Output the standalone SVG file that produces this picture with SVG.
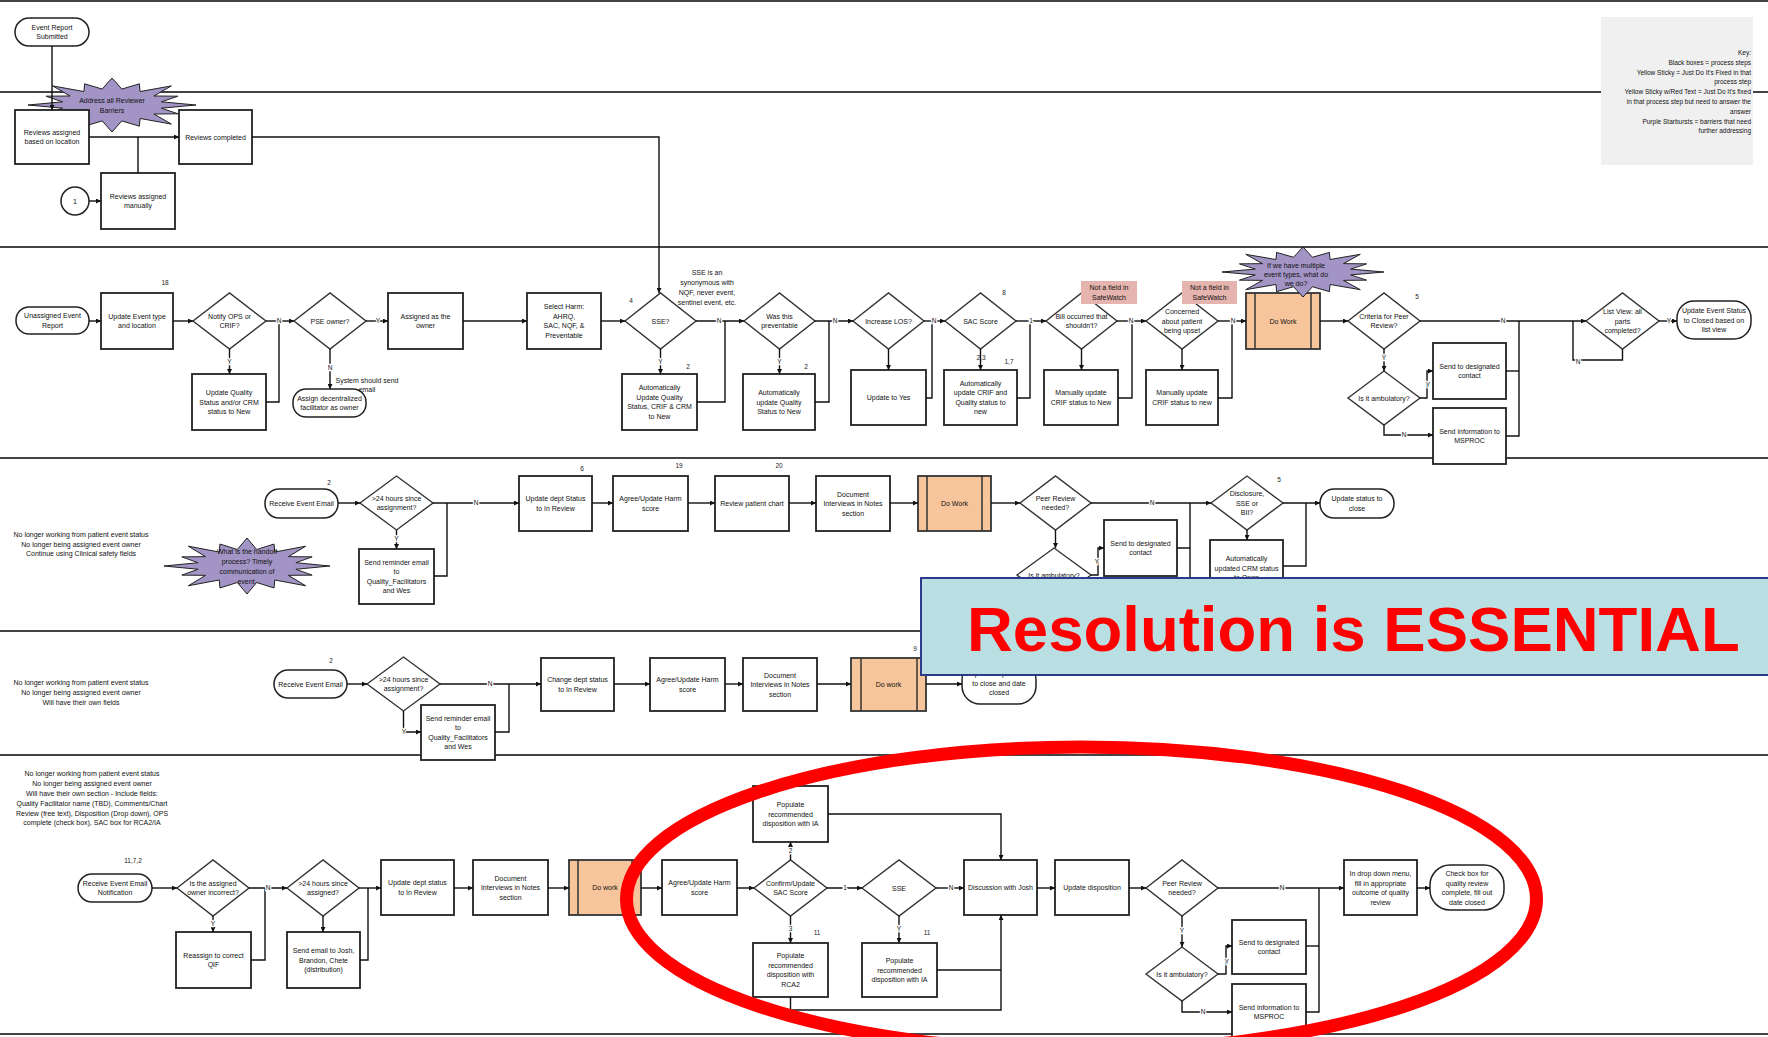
<svg xmlns="http://www.w3.org/2000/svg" xmlns:xlink="http://www.w3.org/1999/xlink" width="1768" height="1037" viewBox="0 0 1768 1037">
<style>
.lane{stroke:#444;stroke-width:2}
.bx{fill:#fff;stroke:#222;stroke-width:1.8}
.rd{fill:#fff;stroke:#222;stroke-width:1.5}
.dm{fill:#fff;stroke:#333;stroke-width:1.4}
.or{fill:#f7c59b;stroke:#333;stroke-width:1.8}
.orl{stroke:#333;stroke-width:1.5}
.pk{fill:#e6b4ae}
.bu{fill:#a294c4;stroke:#222}
.t{font-family:"Liberation Sans",Arial,sans-serif;font-size:7px;text-anchor:middle;fill:#111}
.k{font-family:"Liberation Sans",Arial,sans-serif;font-size:6.5px;text-anchor:end;fill:#111}
.num{font-family:"Liberation Sans",Arial,sans-serif;font-size:6.5px;text-anchor:middle;fill:#222}
.yn{font-family:"Liberation Sans",Arial,sans-serif;font-size:6.5px;text-anchor:middle;fill:#111;paint-order:stroke;stroke:#fff;stroke-width:2.5}
.c{fill:none;stroke:#111;stroke-width:1.4}
.a{marker-end:url(#ah)}
</style>
<defs>
<marker id="ah" viewBox="0 0 10 10" refX="10" refY="5" markerWidth="6" markerHeight="5" markerUnits="userSpaceOnUse" orient="auto"><path d="M0,0 L10,5 L0,10 z" fill="#111"/></marker>
<path id="burst" vector-effect="non-scaling-stroke" stroke-width="1" d="M1,0 L0.589,0.117 L0.785,0.326 L0.499,0.334 L0.707,0.707 L0.334,0.499 L0.326,0.785 L0.117,0.589 L0,1 L-0.117,0.589 L-0.326,0.785 L-0.334,0.499 L-0.707,0.707 L-0.499,0.334 L-0.785,0.326 L-0.589,0.117 L-1,0 L-0.589,-0.117 L-0.785,-0.326 L-0.499,-0.334 L-0.707,-0.707 L-0.334,-0.499 L-0.326,-0.785 L-0.117,-0.589 L0,-1 L0.117,-0.589 L0.326,-0.785 L0.334,-0.499 L0.707,-0.707 L0.499,-0.334 L0.785,-0.326 L0.589,-0.117 Z"/>
</defs>
<rect width="1768" height="1037" fill="#fff"/>
<g id="lanes">
<line class="lane" x1="0" y1="1" x2="1768" y2="1"/>
<line class="lane" x1="0" y1="92" x2="1768" y2="92"/>
<line class="lane" x1="0" y1="247" x2="1768" y2="247"/>
<line class="lane" x1="0" y1="458" x2="1768" y2="458"/>
<line class="lane" x1="0" y1="631" x2="1768" y2="631"/>
<line class="lane" x1="0" y1="755" x2="1768" y2="755"/>
<line class="lane" x1="0" y1="1034" x2="1768" y2="1034"/>
</g>
<g id="nodes">
<g id="key"><rect x="1601" y="17" width="152" height="148" fill="#f0f0f0"/>
<text class="k" x="1751"><tspan x="1751" y="55">Key:</tspan><tspan x="1751" y="65">Black boxes = process steps</tspan><tspan x="1751" y="75">Yellow Sticky = Just Do It's Fixed in that</tspan><tspan x="1751" y="84">process step</tspan><tspan x="1751" y="94">Yellow Sticky w/Red Text = Just Do It's fixed</tspan><tspan x="1751" y="104">in that process step but need to answer the</tspan><tspan x="1751" y="114">answer</tspan><tspan x="1751" y="124">Purple Starbursts = barriers that need</tspan><tspan x="1751" y="133">further addressing</tspan></text></g>

<g id="n-submitted"><rect class="rd" x="15" y="18" width="74" height="28" rx="14"/><text class="t" x="52"><tspan x="52" y="29.8">Event Report</tspan><tspan x="52" y="39.3">Submitted</tspan></text></g>
<g id="n-burst1"><use href="#burst" class="bu" transform="translate(112,105) scale(84,27)"/><text class="t" x="112"><tspan x="112" y="103">Address all Reviewer</tspan><tspan x="112" y="112.5">Barriers</tspan></text></g>
<g id="n-assigned-loc"><rect class="bx" x="15" y="110" width="74" height="54"/><text class="t" x="52"><tspan x="52" y="134.8">Reviews assigned</tspan><tspan x="52" y="144.3">based on location</tspan></text></g>
<g id="n-completed"><rect class="bx" x="179" y="110" width="73" height="54"/><text class="t" x="215.5" y="139.5">Reviews completed</text></g>
<g id="n-manual"><rect class="bx" x="101" y="173" width="74" height="56"/><text class="t" x="138"><tspan x="138" y="198.8">Reviews assigned</tspan><tspan x="138" y="208.3">manually</tspan></text></g>
<g id="n-c1"><circle class="rd" cx="75" cy="201" r="14"/><text class="t" x="75" y="203.5">1</text></g>

<g id="n-unassigned"><rect class="rd" x="16" y="307" width="73" height="27" rx="13"/><text class="t" x="52.5"><tspan x="52.5" y="318.3">Unassigned Event</tspan><tspan x="52.5" y="327.8">Report</tspan></text></g>
<text class="num" x="165" y="285">18</text>
<g id="n-update-type"><rect class="bx" x="101" y="293" width="72" height="56"/><text class="t" x="137"><tspan x="137" y="318.8">Update Event type</tspan><tspan x="137" y="328.3">and location</tspan></text></g>
<g id="n-notify"><polygon class="dm" points="193,321 229.5,293 266,321 229.5,349"/><text class="t" x="229.5"><tspan x="229.5" y="318.8">Notify OPS or</tspan><tspan x="229.5" y="328.3">CRIF?</tspan></text></g>
<g id="n-pse"><polygon class="dm" points="294,321 330,293 366,321 330,349"/><text class="t" x="330" y="323.5">PSE owner?</text></g>
<g id="n-assigned-owner"><rect class="bx" x="388" y="293" width="75" height="56"/><text class="t" x="425.5"><tspan x="425.5" y="318.8">Assigned as the</tspan><tspan x="425.5" y="328.3">owner</tspan></text></g>
<g id="n-select-harm"><rect class="bx" x="527" y="293" width="74" height="56"/><text class="t" x="564"><tspan x="564" y="309.3">Select Harm:</tspan><tspan x="564" y="318.8">AHRQ,</tspan><tspan x="564" y="328.3">SAC, NQF, &amp;</tspan><tspan x="564" y="337.8">Preventable</tspan></text></g>
<text class="num" x="631" y="303">4</text>
<g id="n-sse"><polygon class="dm" points="625,321 660.5,293 696,321 660.5,349"/><text class="t" x="660.5" y="323.5">SSE?</text></g>
<text class="t" x="707"><tspan x="707" y="275">SSE is an</tspan><tspan x="707" y="285">synonymous with</tspan><tspan x="707" y="295">NQF, never event,</tspan><tspan x="707" y="305">sentinel event, etc.</tspan></text>
<g id="n-preventable"><polygon class="dm" points="744,321 779.5,293 815,321 779.5,349"/><text class="t" x="779.5"><tspan x="779.5" y="318.8">Was this</tspan><tspan x="779.5" y="328.3">preventable</tspan></text></g>
<g id="n-los"><polygon class="dm" points="853,321 888.5,293 924,321 888.5,349"/><text class="t" x="888.5" y="323.5">Increase LOS?</text></g>
<g id="n-sac"><polygon class="dm" points="945,321 980.5,293 1016,321 980.5,349"/><text class="t" x="980.5" y="323.5">SAC Score</text></g>
<text class="num" x="1004" y="295">8</text>
<g id="n-bill"><polygon class="dm" points="1046,321 1081.5,293 1117,321 1081.5,349"/><text class="t" x="1081.5"><tspan x="1081.5" y="318.8">Bill occurred that</tspan><tspan x="1081.5" y="328.3">shouldn't?</tspan></text></g>
<g id="n-note1"><rect class="pk" x="1081" y="281" width="56" height="23"/><text class="t" x="1109"><tspan x="1109" y="290.3">Not a field in</tspan><tspan x="1109" y="299.8">SafeWatch</tspan></text></g>
<g id="n-concerned"><polygon class="dm" points="1146,321 1182,293 1218,321 1182,349"/><text class="t" x="1182"><tspan x="1182" y="314">Concerned</tspan><tspan x="1182" y="323.5">about patient</tspan><tspan x="1182" y="333">being upset</tspan></text></g>
<g id="n-note2"><rect class="pk" x="1182" y="281" width="55" height="23"/><text class="t" x="1209.5"><tspan x="1209.5" y="290.3">Not a field in</tspan><tspan x="1209.5" y="299.8">SafeWatch</tspan></text></g>
<g id="n-dowork1"><rect class="or" x="1246" y="293" width="74" height="56"/><line class="orl" x1="1255" y1="293" x2="1255" y2="349"/><line class="orl" x1="1311" y1="293" x2="1311" y2="349"/><text class="t" x="1283" y="323.5">Do Work</text></g>
<g id="n-burst3"><use href="#burst" class="bu" transform="translate(1303,272) scale(81,25)"/><text class="t" x="1296"><tspan x="1296" y="267.5">If we have multiple</tspan><tspan x="1296" y="276.5">event types, what do</tspan><tspan x="1296" y="285.5">we do?</tspan></text></g>
<g id="n-criteria"><polygon class="dm" points="1348,321 1384,293 1420,321 1384,349"/><text class="t" x="1384"><tspan x="1384" y="318.8">Criteria for Peer</tspan><tspan x="1384" y="328.3">Review?</tspan></text></g>
<text class="num" x="1417" y="299">5</text>
<g id="n-listview"><polygon class="dm" points="1586,321 1622.5,293 1659,321 1622.5,349"/><text class="t" x="1622.5"><tspan x="1622.5" y="314">List View: all</tspan><tspan x="1622.5" y="323.5">parts</tspan><tspan x="1622.5" y="333">completed?</tspan></text></g>
<g id="n-closed-list"><rect class="rd" x="1677" y="301" width="74" height="38" rx="17"/><text class="t" x="1714"><tspan x="1714" y="313">Update Event Status</tspan><tspan x="1714" y="322.5">to Closed based on</tspan><tspan x="1714" y="332">list view</tspan></text></g>
<g id="n-upd-quality"><rect class="bx" x="192" y="374" width="74" height="56"/><text class="t" x="229"><tspan x="229" y="395">Update Quality</tspan><tspan x="229" y="404.5">Status and/or CRM</tspan><tspan x="229" y="414">status to New</tspan></text></g>
<g id="n-assign-dec"><rect class="rd" x="293" y="389" width="73" height="28" rx="13"/><text class="t" x="329.5"><tspan x="329.5" y="400.8">Assign decentralized</tspan><tspan x="329.5" y="410.3">facilitator as owner</tspan></text></g>
<text class="t" x="367"><tspan x="367" y="383">System should send</tspan><tspan x="367" y="392">email</tspan></text>
<g id="n-auto-crif-crm"><rect class="bx" x="622" y="374" width="75" height="56"/><text class="t" x="659.5"><tspan x="659.5" y="390.3">Automatically</tspan><tspan x="659.5" y="399.8">Update Quality</tspan><tspan x="659.5" y="409.3">Status, CRIF &amp; CRM</tspan><tspan x="659.5" y="418.8">to New</tspan></text></g>
<text class="num" x="688" y="369">2</text>
<g id="n-auto-quality"><rect class="bx" x="743" y="374" width="72" height="56"/><text class="t" x="779"><tspan x="779" y="395">Automatically</tspan><tspan x="779" y="404.5">update Quality</tspan><tspan x="779" y="414">Status to New</tspan></text></g>
<text class="num" x="806" y="369">2</text>
<g id="n-upd-yes"><rect class="bx" x="851" y="370" width="75" height="55"/><text class="t" x="888.5" y="400">Update to Yes</text></g>
<g id="n-auto-crif"><rect class="bx" x="944" y="370" width="73" height="55"/><text class="t" x="980.5"><tspan x="980.5" y="385.8">Automatically</tspan><tspan x="980.5" y="395.3">update CRIF and</tspan><tspan x="980.5" y="404.8">Quality status to</tspan><tspan x="980.5" y="414.3">new</tspan></text></g>
<text class="num" x="981" y="360">2,3</text>
<text class="num" x="1009" y="364">1,7</text>
<g id="n-man-crif1"><rect class="bx" x="1044" y="370" width="74" height="55"/><text class="t" x="1081"><tspan x="1081" y="395.3">Manually update</tspan><tspan x="1081" y="404.8">CRIF status to New</tspan></text></g>
<g id="n-man-crif2"><rect class="bx" x="1146" y="370" width="72" height="55"/><text class="t" x="1182"><tspan x="1182" y="395.3">Manually update</tspan><tspan x="1182" y="404.8">CRIF status to new</tspan></text></g>
<g id="n-amb1"><polygon class="dm" points="1348,398 1384,371 1420,398 1384,425"/><text class="t" x="1384" y="400.5">Is it ambulatory?</text></g>
<g id="n-contact1"><rect class="bx" x="1433" y="343" width="73" height="56"/><text class="t" x="1469.5"><tspan x="1469.5" y="368.8">Send to designated</tspan><tspan x="1469.5" y="378.3">contact</tspan></text></g>
<g id="n-msproc1"><rect class="bx" x="1433" y="408" width="73" height="56"/><text class="t" x="1469.5"><tspan x="1469.5" y="433.8">Send information to</tspan><tspan x="1469.5" y="443.3">MSPROC</tspan></text></g>

<text class="t" x="81"><tspan x="81" y="537">No longer working from patient event status</tspan><tspan x="81" y="547">No longer being assigned event owner</tspan><tspan x="81" y="556">Continue using Clinical safety fields</tspan></text>
<g id="n-burst2"><use href="#burst" class="bu" transform="translate(247,566) scale(83,28)"/><text class="t" x="247"><tspan x="247" y="554">What is the handoff</tspan><tspan x="247" y="564">process? Timely</tspan><tspan x="247" y="574">communication of</tspan><tspan x="247" y="584">event.</tspan></text></g>
<text class="num" x="329" y="485">2</text>
<g id="n-recv4"><rect class="rd" x="265" y="489" width="73" height="29" rx="14"/><text class="t" x="301.5" y="505.5">Receive Event Email</text></g>
<g id="n-24h4"><polygon class="dm" points="360,503 396.5,476 433,503 396.5,530"/><text class="t" x="396.5"><tspan x="396.5" y="500.8">&gt;24 hours since</tspan><tspan x="396.5" y="510.3">assignment?</tspan></text></g>
<g id="n-remind4"><rect class="bx" x="359" y="549" width="75" height="55"/><text class="t" x="396.5"><tspan x="396.5" y="564.8">Send reminder email</tspan><tspan x="396.5" y="574.3">to</tspan><tspan x="396.5" y="583.8">Quality_Facilitators</tspan><tspan x="396.5" y="593.3">and Wes</tspan></text></g>
<g id="n-dept4"><rect class="bx" x="519" y="476" width="73" height="55"/><text class="t" x="555.5"><tspan x="555.5" y="501.3">Update dept Status</tspan><tspan x="555.5" y="510.8">to In Review</tspan></text></g>
<text class="num" x="582" y="471">6</text>
<g id="n-harm4"><rect class="bx" x="613" y="476" width="75" height="55"/><text class="t" x="650.5"><tspan x="650.5" y="501.3">Agree/Update Harm</tspan><tspan x="650.5" y="510.8">score</tspan></text></g>
<text class="num" x="679" y="468">19</text>
<g id="n-chart4"><rect class="bx" x="715" y="476" width="74" height="55"/><text class="t" x="752" y="506">Review patient chart</text></g>
<text class="num" x="779" y="468">20</text>
<g id="n-doc4"><rect class="bx" x="816" y="476" width="74" height="55"/><text class="t" x="853"><tspan x="853" y="496.5">Document</tspan><tspan x="853" y="506">Interviews in Notes</tspan><tspan x="853" y="515.5">section</tspan></text></g>
<g id="n-dowork4"><rect class="or" x="918" y="476" width="73" height="55"/><line class="orl" x1="927" y1="476" x2="927" y2="531"/><line class="orl" x1="982" y1="476" x2="982" y2="531"/><text class="t" x="954.5" y="506">Do Work</text></g>
<g id="n-peer4"><polygon class="dm" points="1020,503 1055.5,476 1091,503 1055.5,530"/><text class="t" x="1055.5"><tspan x="1055.5" y="500.8">Peer Review</tspan><tspan x="1055.5" y="510.3">needed?</tspan></text></g>
<g id="n-disclosure"><polygon class="dm" points="1211,503 1247,476 1283,503 1247,530"/><text class="t" x="1247"><tspan x="1247" y="496">Disclosure,</tspan><tspan x="1247" y="505.5">SSE or</tspan><tspan x="1247" y="515">BII?</tspan></text></g>
<text class="num" x="1279" y="482">5</text>
<g id="n-close4"><rect class="rd" x="1320" y="489" width="74" height="29" rx="14"/><text class="t" x="1357"><tspan x="1357" y="501">Update status to</tspan><tspan x="1357" y="510.5">close</tspan></text></g>
<g id="n-amb4"><polygon class="dm" points="1017,575 1054,548 1091,575 1054,602"/><text class="t" x="1054" y="577.5">Is it ambulatory?</text></g>
<g id="n-contact4"><rect class="bx" x="1104" y="520" width="73" height="56"/><text class="t" x="1140.5"><tspan x="1140.5" y="545.8">Send to designated</tspan><tspan x="1140.5" y="555.3">contact</tspan></text></g>
<g id="n-crm-open"><rect class="bx" x="1210" y="540" width="73" height="56"/><text class="t" x="1246.5"><tspan x="1246.5" y="561">Automatically</tspan><tspan x="1246.5" y="570.5">updated CRM status</tspan><tspan x="1246.5" y="580">to Open</tspan></text></g>

<text class="t" x="81"><tspan x="81" y="685">No longer working from patient event status</tspan><tspan x="81" y="695">No longer being assigned event owner</tspan><tspan x="81" y="705">Will have their own fields</tspan></text>
<text class="num" x="331" y="663">2</text>
<g id="n-recv5"><rect class="rd" x="274" y="670" width="73" height="28" rx="14"/><text class="t" x="310.5" y="686.5">Receive Event Email</text></g>
<g id="n-24h5"><polygon class="dm" points="367,684 403.5,657 440,684 403.5,711"/><text class="t" x="403.5"><tspan x="403.5" y="681.8">&gt;24 hours since</tspan><tspan x="403.5" y="691.3">assignment?</tspan></text></g>
<g id="n-remind5"><rect class="bx" x="421" y="705" width="74" height="55"/><text class="t" x="458"><tspan x="458" y="720.8">Send reminder email</tspan><tspan x="458" y="730.3">to</tspan><tspan x="458" y="739.8">Quality_Facilitators</tspan><tspan x="458" y="749.3">and Wes</tspan></text></g>
<g id="n-dept5"><rect class="bx" x="541" y="658" width="73" height="53"/><text class="t" x="577.5"><tspan x="577.5" y="682.3">Change dept status</tspan><tspan x="577.5" y="691.8">to In Review</tspan></text></g>
<g id="n-harm5"><rect class="bx" x="650" y="658" width="75" height="53"/><text class="t" x="687.5"><tspan x="687.5" y="682.3">Agree/Update Harm</tspan><tspan x="687.5" y="691.8">score</tspan></text></g>
<g id="n-doc5"><rect class="bx" x="743" y="658" width="74" height="53"/><text class="t" x="780"><tspan x="780" y="677.5">Document</tspan><tspan x="780" y="687">Interviews in Notes</tspan><tspan x="780" y="696.5">section</tspan></text></g>
<g id="n-dowork5"><rect class="or" x="851" y="658" width="75" height="53"/><line class="orl" x1="861" y1="658" x2="861" y2="711"/><line class="orl" x1="917" y1="658" x2="917" y2="711"/><text class="t" x="888.5" y="687">Do work</text></g>
<text class="num" x="915" y="651">9</text>
<g id="n-close5"><rect class="rd" x="962" y="662" width="74" height="42" rx="18"/><text class="t" x="999"><tspan x="999" y="676">Update dept status</tspan><tspan x="999" y="685.5">to close and date</tspan><tspan x="999" y="695">closed</tspan></text></g>

<text class="t" x="92"><tspan x="92" y="776">No longer working from patient event status</tspan><tspan x="92" y="786">No longer being assigned event owner</tspan><tspan x="92" y="796">Will have their own section -  Include fields:</tspan><tspan x="92" y="806">Quality Facilitator name (TBD), Comments/Chart</tspan><tspan x="92" y="816">Review (free text), Disposition (Drop down), OPS</tspan><tspan x="92" y="825">complete (check box), SAC box for RCA2/IA</tspan></text>
<text class="num" x="133" y="863">11,7,2</text>
<g id="n-recv6"><rect class="rd" x="78" y="874" width="74" height="28" rx="14"/><text class="t" x="115"><tspan x="115" y="885.8">Receive Event Email</tspan><tspan x="115" y="895.3">Notification</tspan></text></g>
<g id="n-owner-inc"><polygon class="dm" points="177,888 213,860 249,888 213,916"/><text class="t" x="213"><tspan x="213" y="885.8">Is the assigned</tspan><tspan x="213" y="895.3">owner incorrect?</tspan></text></g>
<g id="n-reassign"><rect class="bx" x="176" y="932" width="75" height="56"/><text class="t" x="213.5"><tspan x="213.5" y="957.8">Reassign to correct</tspan><tspan x="213.5" y="967.3">QIF</tspan></text></g>
<g id="n-24h6"><polygon class="dm" points="287,888 323,860 359,888 323,916"/><text class="t" x="323"><tspan x="323" y="885.8">&gt;24 hours since</tspan><tspan x="323" y="895.3">assigned?</tspan></text></g>
<g id="n-email-josh"><rect class="bx" x="287" y="932" width="73" height="56"/><text class="t" x="323.5"><tspan x="323.5" y="953">Send email to Josh,</tspan><tspan x="323.5" y="962.5">Brandon, Chete</tspan><tspan x="323.5" y="972">(distribution)</tspan></text></g>
<g id="n-dept6"><rect class="bx" x="381" y="860" width="73" height="55"/><text class="t" x="417.5"><tspan x="417.5" y="885.3">Update dept status</tspan><tspan x="417.5" y="894.8">to In Review</tspan></text></g>
<g id="n-doc6"><rect class="bx" x="473" y="860" width="75" height="55"/><text class="t" x="510.5"><tspan x="510.5" y="880.5">Document</tspan><tspan x="510.5" y="890">Interviews in Notes</tspan><tspan x="510.5" y="899.5">section</tspan></text></g>
<g id="n-dowork6"><rect class="or" x="569" y="860" width="72" height="55"/><line class="orl" x1="578" y1="860" x2="578" y2="915"/><line class="orl" x1="632" y1="860" x2="632" y2="915"/><text class="t" x="605" y="890">Do work</text></g>
<g id="n-harm6"><rect class="bx" x="662" y="860" width="75" height="55"/><text class="t" x="699.5"><tspan x="699.5" y="885.3">Agree/Update Harm</tspan><tspan x="699.5" y="894.8">score</tspan></text></g>
<g id="n-confirm-sac"><polygon class="dm" points="754,888 790.5,860 827,888 790.5,916"/><text class="t" x="790.5"><tspan x="790.5" y="885.8">Confirm/Update</tspan><tspan x="790.5" y="895.3">SAC Score</tspan></text></g>
<g id="n-pop-ia1"><rect class="bx" x="753" y="786" width="75" height="56"/><text class="t" x="790.5"><tspan x="790.5" y="807">Populate</tspan><tspan x="790.5" y="816.5">recommended</tspan><tspan x="790.5" y="826">disposition with IA</tspan></text></g>
<g id="n-pop-rca2"><rect class="bx" x="753" y="943" width="75" height="54"/><text class="t" x="790.5"><tspan x="790.5" y="958.3">Populate</tspan><tspan x="790.5" y="967.8">recommended</tspan><tspan x="790.5" y="977.3">disposition with</tspan><tspan x="790.5" y="986.8">RCA2</tspan></text></g>
<text class="num" x="817" y="935">11</text>
<g id="n-sse6"><polygon class="dm" points="862,888 899,860 936,888 899,916"/><text class="t" x="899" y="890.5">SSE</text></g>
<g id="n-pop-ia2"><rect class="bx" x="862" y="943" width="75" height="54"/><text class="t" x="899.5"><tspan x="899.5" y="963">Populate</tspan><tspan x="899.5" y="972.5">recommended</tspan><tspan x="899.5" y="982">disposition with IA</tspan></text></g>
<text class="num" x="927" y="935">11</text>
<g id="n-josh"><rect class="bx" x="964" y="860" width="73" height="55"/><text class="t" x="1000.5" y="890">Discussion with Josh</text></g>
<g id="n-disposition"><rect class="bx" x="1055" y="860" width="74" height="55"/><text class="t" x="1092" y="890">Update disposition</text></g>
<g id="n-peer6"><polygon class="dm" points="1146,888 1182,860 1218,888 1182,916"/><text class="t" x="1182"><tspan x="1182" y="885.8">Peer Review</tspan><tspan x="1182" y="895.3">needed?</tspan></text></g>
<g id="n-amb6"><polygon class="dm" points="1146,974 1182,947 1218,974 1182,1001"/><text class="t" x="1182" y="976.5">Is it ambulatory?</text></g>
<g id="n-contact6"><rect class="bx" x="1232" y="920" width="74" height="54"/><text class="t" x="1269"><tspan x="1269" y="944.8">Send to designated</tspan><tspan x="1269" y="954.3">contact</tspan></text></g>
<g id="n-msproc6"><rect class="bx" x="1232" y="984" width="74" height="56"/><text class="t" x="1269"><tspan x="1269" y="1009.8">Send information to</tspan><tspan x="1269" y="1019.3">MSPROC</tspan></text></g>
<g id="n-dropdown"><rect class="bx" x="1344" y="860" width="73" height="55"/><text class="t" x="1380.5"><tspan x="1380.5" y="876.3">In drop down menu,</tspan><tspan x="1380.5" y="885.8">fill in appropriate</tspan><tspan x="1380.5" y="895.3">outcome of quality</tspan><tspan x="1380.5" y="904.8">review</tspan></text></g>
<g id="n-checkbox"><rect class="rd" x="1430" y="865" width="74" height="45" rx="20"/><text class="t" x="1467"><tspan x="1467" y="876.3">Check box for</tspan><tspan x="1467" y="885.8">quality review</tspan><tspan x="1467" y="895.3">complete, fill out</tspan><tspan x="1467" y="904.8">date closed</tspan></text></g>
</g>

<g id="connectors">
<path class="c a" d="M52,46 V110"/>
<path class="c a" d="M89,137 H179"/>
<path class="c" d="M138,137 V173"/>
<path class="c a" d="M89,201 H101"/>
<path class="c a" d="M252,137 H659 V293"/>

<path class="c a" d="M89,321 H101"/>
<path class="c a" d="M173,321 H193"/>
<path class="c a" d="M266,321 H294"/>
<path class="c a" d="M229.5,349 V374"/>
<path class="c" d="M266,402 H279 V321"/>
<path class="c a" d="M366,321 H388"/>
<path class="c a" d="M330,349 V389"/>
<path class="c a" d="M463,321 H527"/>
<path class="c a" d="M601,321 H625"/>
<path class="c a" d="M696,321 H744"/>
<path class="c a" d="M660.5,349 V374"/>
<path class="c" d="M697,402 H725 V321"/>
<path class="c a" d="M815,321 H853"/>
<path class="c a" d="M779.5,349 V374"/>
<path class="c" d="M815,402 H829 V321"/>
<path class="c a" d="M924,321 H945"/>
<path class="c a" d="M888.5,349 V370"/>
<path class="c" d="M926,398 H932 V321"/>
<path class="c a" d="M1016,321 H1046"/>
<path class="c a" d="M980.5,349 V370"/>
<path class="c" d="M1017,398 H1030 V321"/>
<path class="c a" d="M1117,321 H1146"/>
<path class="c a" d="M1081.5,349 V370"/>
<path class="c" d="M1118,398 H1132 V321"/>
<path class="c a" d="M1218,321 H1246"/>
<path class="c a" d="M1182,349 V370"/>
<path class="c" d="M1218,398 H1232 V321"/>
<path class="c a" d="M1320,321 H1348"/>
<path class="c a" d="M1420,321 H1586"/>
<path class="c a" d="M1384,349 V371"/>
<path class="c a" d="M1420,398 H1427 V371 H1433"/>
<path class="c a" d="M1384,425 V435 H1433"/>
<path class="c" d="M1506,371 H1519"/>
<path class="c" d="M1506,436 H1519 V321"/>
<path class="c a" d="M1659,321 H1677"/>
<path class="c" d="M1622.5,349 V360 H1573 V321"/>

<path class="c a" d="M338,503 H360"/>
<path class="c a" d="M396.5,530 V549"/>
<path class="c" d="M434,576 H447 V503"/>
<path class="c a" d="M433,503 H519"/>
<path class="c a" d="M592,503 H613"/>
<path class="c a" d="M688,503 H715"/>
<path class="c a" d="M789,503 H816"/>
<path class="c a" d="M890,503 H918"/>
<path class="c a" d="M991,503 H1020"/>
<path class="c a" d="M1091,503 H1211"/>
<path class="c a" d="M1055.5,530 V548"/>
<path class="c a" d="M1091,575 H1098 V548 H1104"/>
<path class="c" d="M1177,548 H1190 V503"/>
<path class="c" d="M1190,548 V600"/>
<path class="c a" d="M1247,530 V540"/>
<path class="c" d="M1283,566 H1306 V503"/>
<path class="c a" d="M1283,503 H1320"/>

<path class="c a" d="M347,684 H367"/>
<path class="c a" d="M403.5,711 V732 H421"/>
<path class="c" d="M495,732 H509 V684"/>
<path class="c a" d="M440,684 H541"/>
<path class="c a" d="M614,684 H650"/>
<path class="c a" d="M725,684 H743"/>
<path class="c a" d="M817,684 H851"/>
<path class="c a" d="M926,684 H962"/>

<path class="c a" d="M152,888 H177"/>
<path class="c a" d="M249,888 H287"/>
<path class="c a" d="M213,916 V932"/>
<path class="c" d="M251,960 H265 V888"/>
<path class="c a" d="M323,916 V932"/>
<path class="c" d="M360,960 H368 V888"/>
<path class="c a" d="M359,888 H381"/>
<path class="c a" d="M454,888 H473"/>
<path class="c a" d="M548,888 H569"/>
<path class="c a" d="M641,888 H662"/>
<path class="c a" d="M737,888 H754"/>
<path class="c a" d="M790.5,860 V842"/>
<path class="c a" d="M790.5,916 V943"/>
<path class="c a" d="M827,888 H862"/>
<path class="c a" d="M828,814 H1001 V860"/>
<path class="c a" d="M790.5,997 V1010 H1001 V915"/>
<path class="c" d="M937,970 H1001"/>
<path class="c a" d="M899,916 V943"/>
<path class="c a" d="M936,888 H964"/>
<path class="c a" d="M1037,888 H1055"/>
<path class="c a" d="M1129,888 H1146"/>
<path class="c a" d="M1218,888 H1344"/>
<path class="c a" d="M1182,916 V947"/>
<path class="c a" d="M1218,974 H1226 V946 H1232"/>
<path class="c a" d="M1182,1001 V1012 H1232"/>
<path class="c" d="M1306,946 H1319"/>
<path class="c" d="M1306,1012 H1319 V888"/>
<path class="c a" d="M1417,888 H1430"/>

<text class="yn" x="279" y="323.3">N</text>
<text class="yn" x="229.5" y="364.3">Y</text>
<text class="yn" x="378" y="323.3">Y</text>
<text class="yn" x="330" y="370.3">N</text>
<text class="yn" x="719" y="323.3">N</text>
<text class="yn" x="660.5" y="364.3">Y</text>
<text class="yn" x="835" y="323.3">N</text>
<text class="yn" x="779.5" y="364.3">Y</text>
<text class="yn" x="934" y="323.3">N</text>
<text class="yn" x="1031" y="323.3">1</text>
<text class="yn" x="1131" y="323.3">N</text>
<text class="yn" x="1233" y="323.3">N</text>
<text class="yn" x="1503" y="323.3">N</text>
<text class="yn" x="1384" y="360.3">Y</text>
<text class="yn" x="1428" y="387.3">Y</text>
<text class="yn" x="1404" y="437.3">N</text>
<text class="yn" x="1669" y="323.3">Y</text>
<text class="yn" x="1578" y="364.3">N</text>
<text class="yn" x="396.5" y="541.3">Y</text>
<text class="yn" x="476" y="505.3">N</text>
<text class="yn" x="1152" y="505.3">N</text>
<text class="yn" x="1097" y="564.3">Y</text>
<text class="yn" x="404" y="734.3">Y</text>
<text class="yn" x="490" y="686.3">N</text>
<text class="yn" x="268" y="890.3">N</text>
<text class="yn" x="213" y="926.3">Y</text>
<text class="yn" x="790.5" y="853.3">2</text>
<text class="yn" x="790.5" y="931.3">3</text>
<text class="yn" x="845" y="890.3">1</text>
<text class="yn" x="899" y="931.3">Y</text>
<text class="yn" x="951" y="890.3">N</text>
<text class="yn" x="1282" y="890.3">N</text>
<text class="yn" x="1182" y="933.3">Y</text>
<text class="yn" x="1227" y="964.3">Y</text>
<text class="yn" x="1203" y="1014.3">N</text>
</g>

<g id="highlight">
<ellipse cx="1081.5" cy="899" rx="455" ry="152" fill="none" stroke="#ff0000" stroke-width="13"/>
</g>
<g id="banner">
<rect x="921" y="578" width="850" height="97" fill="#b9dfe3" stroke="#2b3a8a" stroke-width="2"/>
<text x="967" y="651" font-family="'Liberation Sans',Arial,sans-serif" font-size="63.5" font-weight="bold" fill="#ff0000">Resolution is ESSENTIAL</text>
</g>
</svg>
